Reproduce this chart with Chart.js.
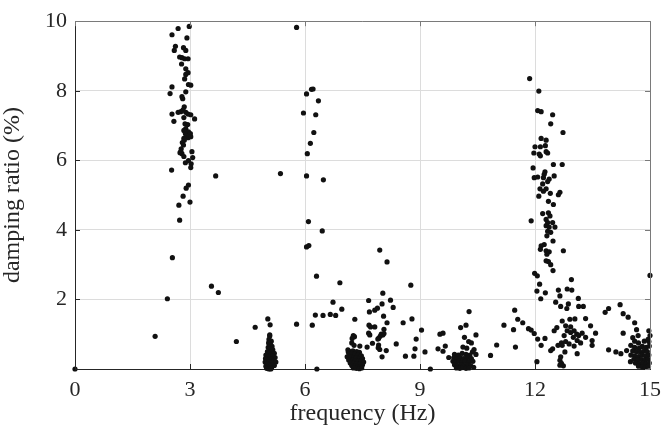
<!DOCTYPE html>
<html>
<head>
<meta charset="utf-8">
<script src="https://cdn.jsdelivr.net/npm/chart.js@4.4.0/dist/chart.umd.min.js"></script>
<style>
  html, body { margin: 0; padding: 0; background: #fff; }
</style>
</head>
<body>
<canvas id="chart" width="669" height="430"></canvas>
<script>
// [frequency (Hz), damping ratio (%)], grouped by band
const band3Hz = [
  [2.98,9.85],[2.69,9.79],[2.53,9.61],[2.92,9.52],[2.62,9.28],[2.59,9.16],[2.83,9.24],[2.89,9.16],
  [2.73,8.97],[2.79,8.95],[2.86,8.92],[2.95,8.92],[2.78,8.77],[2.89,8.63],[2.95,8.52],[2.89,8.47],
  [2.86,8.34],[2.96,8.18],[3.02,8.16],[2.53,8.11],[2.48,7.92],[2.89,7.97],[2.79,7.83],[2.81,7.77],
  [2.85,7.54],[2.82,7.45],[2.76,7.40],[2.69,7.38],[2.89,7.38],[2.95,7.33],[3.02,7.31],[2.53,7.33],
  [3.12,7.19],[2.58,7.12],[2.84,7.23],[2.87,7.05],[2.94,7.03],[2.89,6.91],[2.84,6.86],[2.96,6.82],
  [2.88,6.77],[3.01,6.77],[2.90,6.69],[2.95,6.65],[2.84,6.63],[3.02,6.68],[2.85,6.58],[2.80,6.51],
  [2.83,6.44],[2.77,6.33],[2.74,6.22],[2.79,6.19],[2.76,6.25],[2.84,6.11],[3.05,6.25],[3.07,6.08],
  [2.96,5.99],[3.03,5.90],[3.02,5.79],[2.88,5.93],[2.52,5.72],[3.67,5.55],[2.96,5.29],[2.90,5.20],
  [2.82,4.97],[3.00,4.80],[2.71,4.71],[2.73,4.28],[2.54,3.20],[2.41,2.02],[2.09,0.94],[3.56,2.38],
  [3.74,2.20],[0.00,0.00],[4.21,0.79],[4.70,1.20]
];
const band5Hz = [
  [5.03,1.44],[5.09,1.27],[5.08,0.98],
  [5.08,0.95],[5.06,0.85],[5.12,0.80],[5.05,0.75],[5.10,0.70],[5.14,0.65],[5.04,0.62],[5.08,0.58],
  [5.16,0.55],[5.02,0.50],[5.12,0.50],[5.06,0.45],[5.20,0.45],[4.98,0.40],[5.10,0.40],[5.15,0.38],
  [5.04,0.35],[5.22,0.33],[4.97,0.30],[5.08,0.30],[5.13,0.28],[5.02,0.25],[5.18,0.24],[4.96,0.20],
  [5.07,0.20],[5.12,0.18],[5.24,0.20],[5.00,0.15],[5.05,0.12],[5.15,0.12],[4.98,0.08],[5.10,0.08],
  [5.20,0.10],[5.03,0.05],[5.08,0.03],[5.13,0.04],[5.00,0.02],[5.06,0.00],[5.11,0.00]
];
const band6Hz = [
  [5.78,9.82],[6.17,8.04],[6.21,8.05],[6.04,7.91],[6.35,7.71],[5.96,7.36],[6.28,7.31],[6.23,6.80],
  [6.14,6.49],[6.06,6.19],[5.36,5.62],[6.04,5.55],[6.48,5.44],[6.09,4.24],[6.45,3.97],[6.04,3.51],
  [6.10,3.55],[6.30,2.67],[6.91,2.48],[6.73,1.92],[6.96,1.72],[6.27,1.55],[6.47,1.54],[6.66,1.57],
  [6.80,1.54],[6.19,1.26],[5.78,1.29],[6.31,0.00]
];
const band7Hz = [
  [7.30,1.43],[7.26,0.96],[7.29,0.93],[7.23,0.88],[7.22,0.75],[7.28,0.68],[7.13,0.49],[7.43,0.66],
  [7.12,0.55],[7.18,0.50],[7.25,0.52],[7.35,0.50],[7.42,0.48],[7.15,0.42],[7.22,0.44],[7.30,0.42],
  [7.38,0.40],[7.47,0.38],[7.10,0.35],[7.20,0.35],[7.27,0.33],[7.34,0.32],[7.42,0.30],[7.50,0.30],
  [7.14,0.26],[7.24,0.25],[7.31,0.24],[7.39,0.22],[7.46,0.22],[7.53,0.20],[7.18,0.17],[7.27,0.16],
  [7.35,0.15],[7.43,0.14],[7.50,0.12],[7.22,0.10],[7.30,0.08],[7.38,0.07],[7.45,0.06],[7.26,0.03],
  [7.34,0.02],[7.42,0.01],[7.48,0.03]
];
const band8Hz = [
  [7.95,3.42],[8.14,3.08],[8.76,2.41],[8.03,2.18],[8.23,1.98],[8.30,1.77],[7.66,1.97],[8.01,1.87],
  [7.89,1.75],[7.82,1.69],[7.68,1.64],[8.05,1.52],[8.14,1.33],[8.56,1.33],[8.79,1.44],[7.67,1.26],
  [7.71,1.21],[7.82,1.21],[8.06,1.14],[8.03,0.98],[7.96,0.94],[7.92,0.88],[7.66,1.03],[7.69,0.98],
  [7.76,0.74],[7.62,0.63],[8.38,0.72],[7.92,0.69],[7.95,0.56],[8.12,0.53],[8.01,0.35],[8.62,0.37],
  [8.84,0.37],[8.90,0.86],[8.87,0.58],[9.13,0.49],[9.04,1.12],[7.99,1.00],[8.06,1.02],[7.90,0.86],
  [7.91,0.61],[9.27,0.00]
];
const band10Hz = [
  [9.52,1.00],[9.60,1.03],[9.47,0.58],[9.60,0.51],[9.66,0.66],[9.75,0.33],[10.06,1.19],[10.20,1.26],
  [10.28,1.65],[10.16,0.91],[10.27,0.79],[10.34,0.75],[10.46,0.98],[10.41,0.56],[10.46,0.42],[10.37,0.49],
  [10.12,0.63],[10.22,0.60],
  [9.90,0.42],[10.00,0.40],[10.10,0.45],[10.20,0.42],[10.30,0.40],[9.88,0.32],[9.96,0.30],[10.05,0.33],
  [10.14,0.30],[10.23,0.32],[10.34,0.30],[9.86,0.22],[9.93,0.20],[10.02,0.22],[10.10,0.20],[10.18,0.22],
  [10.27,0.20],[10.38,0.22],[9.90,0.12],[9.98,0.10],[10.07,0.12],[10.15,0.10],[10.24,0.12],[10.32,0.10],
  [9.95,0.03],[10.04,0.02],[10.12,0.04],[10.20,0.02],[10.28,0.03],[10.40,0.05],
  [10.84,0.39],[11.00,0.69],[11.19,1.26],[11.47,1.69],[11.55,1.43],[11.68,1.33],[11.44,1.13],[11.49,0.63],
  [11.83,1.16],[11.90,1.12],[11.98,1.02]
];
const band12Hz = [
  [11.86,8.35],[12.10,7.99],[12.07,7.43],[12.16,7.40],[12.46,7.31],[12.41,7.05],[12.73,6.80],[12.16,6.63],
  [12.29,6.58],[12.00,6.39],[12.14,6.39],[12.27,6.42],[11.97,6.21],[12.11,6.18],[12.14,6.13],[12.29,6.25],
  [12.33,6.21],[11.95,5.78],[12.48,5.88],[12.71,5.88],[12.26,5.67],[12.24,5.60],[11.98,5.50],[12.07,5.52],
  [12.22,5.50],[12.37,5.46],[12.50,5.55],[12.33,5.39],[12.20,5.32],[12.13,5.18],[12.29,5.18],[12.22,5.11],
  [12.40,5.05],[12.10,4.97],[12.65,5.08],[12.61,5.01],[12.35,4.82],[12.48,4.73],[12.20,4.47],[12.35,4.49],
  [12.39,4.40],[11.90,4.26],[12.29,4.30],[12.33,4.21],[12.46,4.21],[12.29,4.12],[12.37,4.08],[12.52,4.08],
  [12.33,3.96],[12.41,3.93],[12.31,3.83],[12.47,3.68],[12.16,3.54],[12.14,3.44],[12.24,3.58],[12.29,3.40],
  [12.37,3.37],[12.31,3.30],[12.74,3.40],[12.29,3.11],[12.35,3.09],[12.41,3.00],[12.47,2.83],[11.99,2.75],
  [12.06,2.68],[12.12,2.44],[12.05,2.24],[12.27,2.19],[12.15,2.02],[12.61,2.27],[12.65,2.10],[12.84,2.30],
  [12.96,2.27],[12.95,2.57]
];
const band13Hz = [
  [12.05,0.21],[12.07,0.86],[12.16,0.68],[12.26,0.88],[12.54,1.92],[12.67,1.80],[12.83,1.74],[12.87,1.87],
  [13.13,2.03],[13.14,1.80],[13.26,1.80],[12.71,1.38],[12.91,1.43],[13.04,1.44],[13.32,1.45],[13.45,1.24],
  [13.58,1.03],[12.57,1.19],[12.50,1.10],[12.80,1.24],[12.84,1.10],[12.93,1.05],[13.02,1.10],[13.09,1.00],
  [13.00,0.91],[13.14,0.96],[13.23,1.03],[13.10,0.82],[13.19,0.75],[12.76,0.96],[12.80,0.79],[12.69,0.75],
  [12.60,0.68],[12.89,0.72],[13.02,0.66],[12.46,0.58],[12.41,0.53],[12.71,0.68],[12.78,0.49],[13.10,0.44],
  [13.49,0.82],[13.49,0.68],[12.67,0.35],[12.65,0.25],[12.69,0.16],[12.74,0.09],[12.65,0.11],[13.32,0.91],
  [12.93,1.21]
];
const band15Hz = [
  [13.83,1.63],[13.92,1.74],[14.22,1.85],[14.30,1.59],[14.43,1.49],[14.60,1.33],[14.65,1.13],[14.69,0.96],
  [14.30,1.03],[13.92,0.55],[14.11,0.49],[14.24,0.44],[14.39,0.53],[14.49,0.21],[14.97,1.10],[15.00,0.96],
  [14.97,0.79],[15.00,2.69],
  [14.55,0.90],[14.60,0.80],[14.70,0.75],[14.85,0.80],[14.95,0.85],[14.50,0.68],[14.60,0.62],[14.72,0.60],
  [14.80,0.65],[14.90,0.62],[14.98,0.66],[14.55,0.52],[14.65,0.50],[14.75,0.48],[14.85,0.52],[14.93,0.50],
  [14.50,0.40],[14.60,0.38],[14.70,0.36],[14.80,0.40],[14.88,0.38],[14.97,0.40],[14.58,0.28],[14.68,0.26],
  [14.78,0.27],[14.87,0.25],[14.95,0.28],[14.62,0.17],[14.72,0.15],[14.82,0.16],[14.90,0.14],[14.98,0.17],
  [14.70,0.08],[14.80,0.06],[14.88,0.05],[14.96,0.08]
];

const xLimits = [0, 15];
const yLimits = [0, 10];
const xStep = 3;
const yStep = 2;

const allPoints = [].concat(band3Hz, band5Hz, band6Hz, band7Hz, band8Hz, band10Hz, band12Hz, band13Hz, band15Hz)
  .map(([f, d]) => ({ x: f, y: d }));

const FONT = 'Liberation Serif, Times New Roman, serif';
const INK = '#262626';
const TICK = 5;

// MATLAB style box: ticks pointing inwards on all four sides, lighter top/right edge
const boxPlugin = {
  id: 'box',
  afterDraw(chart) {
    const { ctx, chartArea: a, scales: { x, y } } = chart;
    ctx.save();
    ctx.lineWidth = 1;
    ctx.strokeStyle = INK;
    ctx.beginPath();
    x.ticks.forEach(t => {
      const px = Math.round(x.getPixelForValue(t.value)) + 0.5;
      ctx.moveTo(px, a.bottom); ctx.lineTo(px, a.bottom - TICK);
    });
    y.ticks.forEach(t => {
      const py = Math.round(y.getPixelForValue(t.value)) + 0.5;
      ctx.moveTo(a.left, py); ctx.lineTo(a.left + TICK, py);
    });
    ctx.stroke();

    ctx.strokeStyle = '#7a7a7a';
    ctx.beginPath();
    x.ticks.forEach(t => {
      const px = Math.round(x.getPixelForValue(t.value)) + 0.5;
      ctx.moveTo(px, a.top); ctx.lineTo(px, a.top + TICK);
    });
    y.ticks.forEach(t => {
      const py = Math.round(y.getPixelForValue(t.value)) + 0.5;
      ctx.moveTo(a.right, py); ctx.lineTo(a.right - TICK, py);
    });
    const top = Math.round(a.top) + 0.5;
    const right = Math.round(a.right) + 0.5;
    ctx.moveTo(a.left, top); ctx.lineTo(right, top); ctx.lineTo(right, a.bottom);
    ctx.stroke();
    ctx.restore();
  }
};

new Chart(document.getElementById('chart'), {
  type: 'scatter',
  data: {
    datasets: [{
      data: allPoints,
      backgroundColor: '#111',
      borderWidth: 0,
      pointRadius: 2.6,
      pointHoverRadius: 2.6,
      clip: false
    }]
  },
  options: {
    responsive: false,
    animation: false,
    events: [],
    layout: { padding: { top: 13, right: 12, left: 0, bottom: 0 } },
    plugins: { legend: { display: false }, tooltip: { enabled: false } },
    scales: {
      x: {
        type: 'linear',
        min: xLimits[0],
        max: xLimits[1],
        afterFit: s => { s.height = 61; },
        grid: { color: '#dcdcdc', drawTicks: false },
        border: { color: INK, width: 1 },
        ticks: {
          stepSize: xStep,
          autoSkip: false,
          maxRotation: 0,
          padding: 8,
          color: INK,
          font: { family: FONT, size: 22 }
        },
        title: {
          display: true,
          text: 'frequency (Hz)',
          color: INK,
          font: { family: FONT, size: 24 },
          padding: { top: 0, bottom: 2 }
        }
      },
      y: {
        type: 'linear',
        min: yLimits[0],
        max: yLimits[1],
        afterFit: s => { s.width = 75; },
        grid: { color: '#dcdcdc', drawTicks: false },
        border: { color: INK, width: 1 },
        ticks: {
          stepSize: yStep,
          autoSkip: false,
          padding: 8,
          color: INK,
          font: { family: FONT, size: 22 },
          callback: v => (v === 0 ? '' : v)
        },
        title: {
          display: true,
          text: 'damping ratio (%)',
          color: INK,
          font: { family: FONT, size: 24 },
          padding: { top: -2, bottom: 0 }
        }
      }
    }
  },
  plugins: [boxPlugin]
});
</script>
</body>
</html>
